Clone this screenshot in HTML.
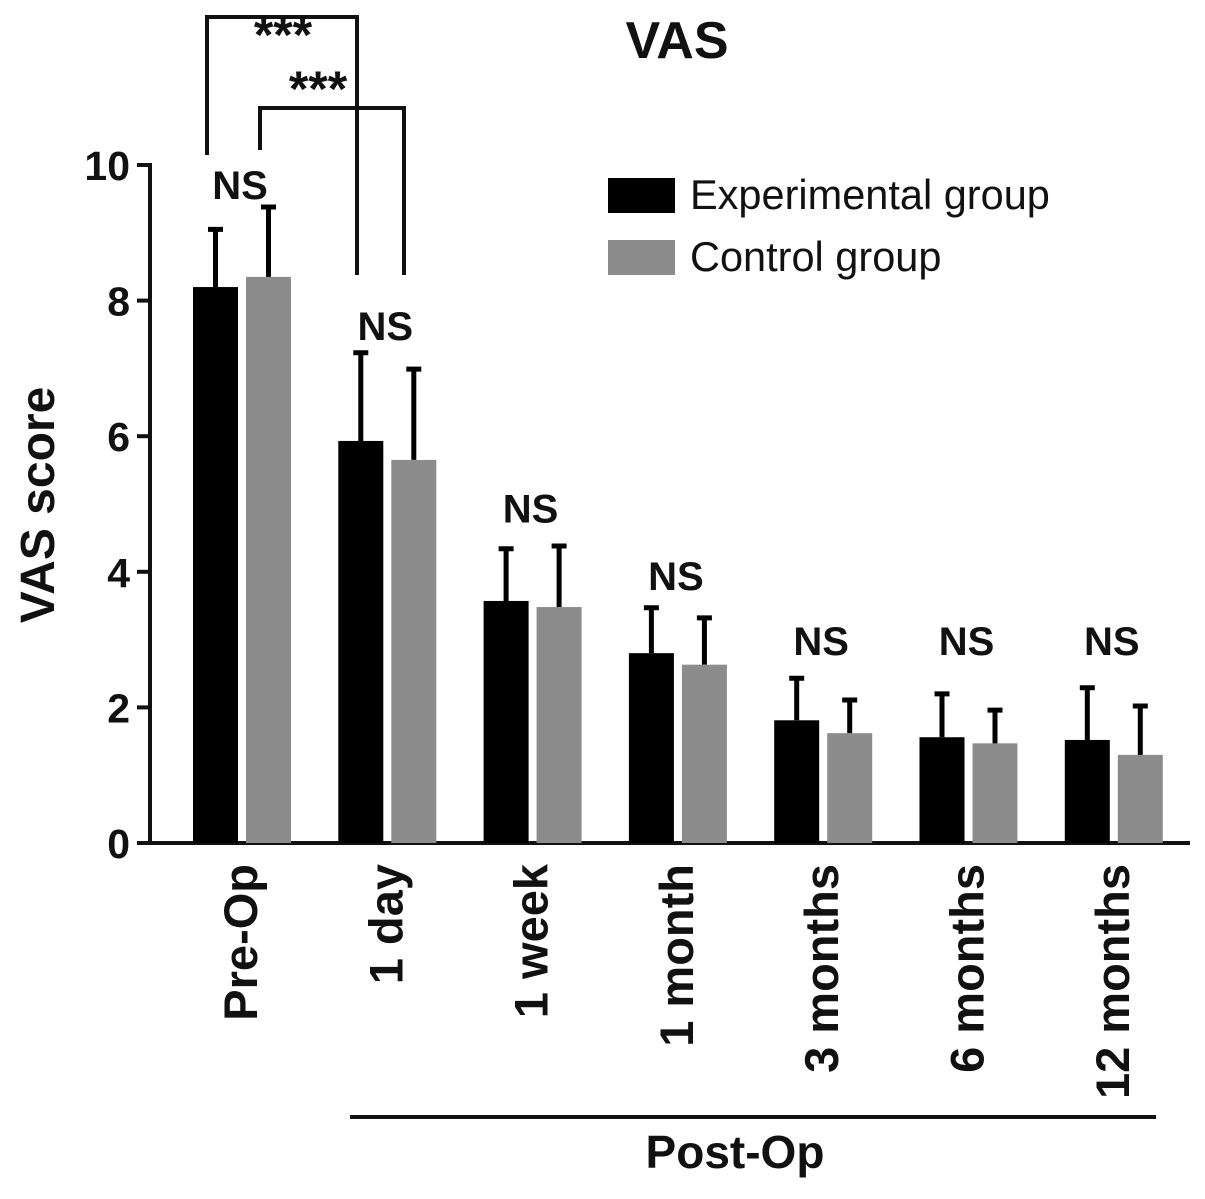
<!DOCTYPE html>
<html><head><meta charset="utf-8"><style>
body{margin:0;background:#fff}
svg text{font-family:"Liberation Sans",Arial,sans-serif;font-weight:bold;fill:#111}
</style></head><body>
<svg id="chart" width="1205" height="1194" viewBox="0 0 1205 1194" xmlns="http://www.w3.org/2000/svg">
<text x="677" y="58" font-size="52" text-anchor="middle">VAS</text>
<text transform="translate(54,505) rotate(-90)" font-size="48" text-anchor="middle">VAS score</text>
<g id="axes"></g><g id="bars"></g>
<g>
<rect x="608" y="178" width="67" height="35" fill="#000"/>
<text x="690" y="209" font-size="41.5" style="font-weight:normal">Experimental group</text>
<rect x="608" y="240" width="67" height="35" fill="#8c8c8c"/>
<text x="690" y="271" font-size="41.5" style="font-weight:normal">Control group</text>
</g>
<g fill="none" stroke="#111" stroke-width="4">
<path d="M207,155 V17 H357 V275"/>
<path d="M260,150 V108 H404 V275"/>
</g>
<text x="283" y="52" font-size="50" text-anchor="middle">***</text>
<text x="318" y="106" font-size="50" text-anchor="middle">***</text>
<line x1="350" y1="1117" x2="1156" y2="1117" stroke="#111" stroke-width="4"/>
<text x="735" y="1168" font-size="46" text-anchor="middle">Post-Op</text>
</svg>
<script>
const categories=["Pre-Op","1 day","1 week","1 month","3 months","6 months","12 months"];
const expValues=[8.2,5.93,3.57,2.8,1.81,1.56,1.52];
const expErr=[0.85,1.3,0.77,0.67,0.62,0.64,0.77];
const ctrlValues=[8.35,5.65,3.48,2.63,1.62,1.47,1.3];
const ctrlErr=[1.03,1.34,0.9,0.69,0.49,0.49,0.72];
const yTicks=[0,2,4,6,8,10];
const sigLabels=["NS","NS","NS","NS","NS","NS","NS"];
const sigLevels=[9.5,7.42,4.73,3.73,2.77,2.77,2.77];
const NS="http://www.w3.org/2000/svg";
const y=v=>843-v*67.8;
const cx=i=>242+i*145.3;
function mk(tag,attrs,parent){const e=document.createElementNS(NS,tag);for(const k in attrs)e.setAttribute(k,attrs[k]);parent.appendChild(e);return e;}
const axes=document.getElementById('axes'),bars=document.getElementById('bars');
let a=mk('line',{x1:150,y1:163,x2:150,y2:845,stroke:'#111','stroke-width':4},axes);


a=mk('line',{x1:148,y1:843,x2:1190,y2:843,stroke:'#111','stroke-width':4},axes);


yTicks.forEach(t=>{
 const l=mk('line',{x1:137,y1:y(t),x2:150,y2:y(t),stroke:'#111','stroke-width':4},axes);
 
 
 const tx=mk('text',{x:130,y:y(t)+15,'font-size':41,'text-anchor':'end'},axes);tx.textContent=t;
 
 
});
categories.forEach((c,i)=>{
 const x0=cx(i);
 [[expValues[i],expErr[i],x0-49,'#000','experimental'],[ctrlValues[i],ctrlErr[i],x0+4,'#8c8c8c','control']].forEach(([v,e,bx,col,nm])=>{
  const r=mk('rect',{x:bx,y:y(v),width:45,height:843-y(v),fill:col},bars);
  
  
  const eb=mk('path',{d:`M${bx+22.5},${y(v)} V${y(v+e)} M${bx+15},${y(v+e)} H${bx+30}`,stroke:'#000','stroke-width':5,fill:'none'},bars);
  
  
 });
 const s=mk('text',{x:x0-2,y:y(sigLevels[i]),'font-size':40,'text-anchor':'middle'},bars);s.textContent=sigLabels[i];
 
 
 const lb=mk('text',{transform:`translate(${x0+15},864) rotate(-90)`,'font-size':47,'text-anchor':'end'},bars);lb.textContent=c;
 
 
});
</script>
</body></html>
